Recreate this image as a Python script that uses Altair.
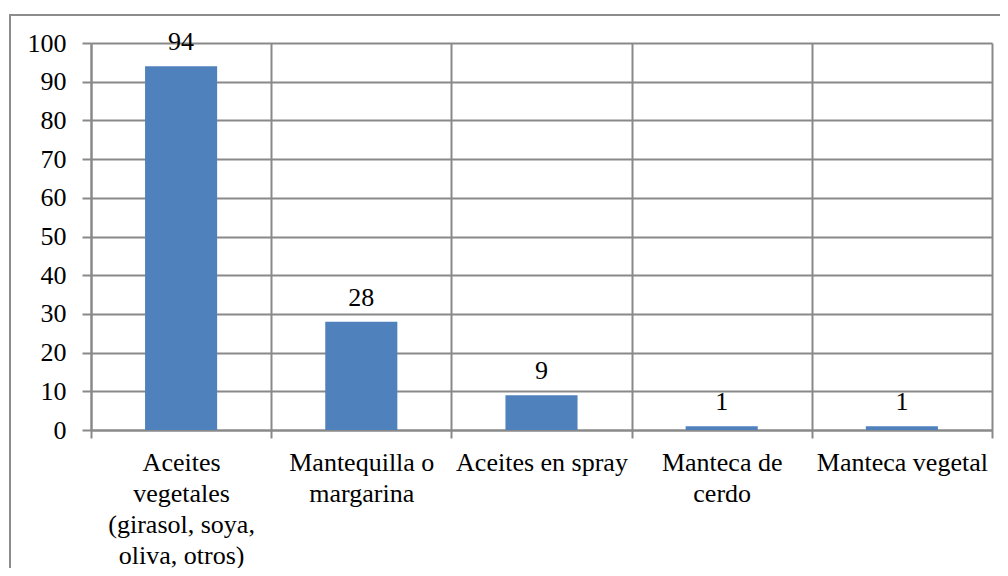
import altair as alt
import pandas as pd

categories = [
    "Aceites\nvegetales\n(girasol, soya,\noliva, otros)",
    "Mantequilla o\nmargarina",
    "Aceites en spray",
    "Manteca de\ncerdo",
    "Manteca vegetal",
]
values = [94, 28, 9, 1, 1]
y_ticks = [0, 10, 20, 30, 40, 50, 60, 70, 80, 90, 100]

df = pd.DataFrame({"cat": categories, "val": values})

FONT = "Times New Roman"
FS = 26
GRID = "#898989"

x_enc = alt.X(
    "cat:N",
    sort=categories,
    title=None,
    scale=alt.Scale(paddingInner=0, paddingOuter=0),
    axis=alt.Axis(
        labelAngle=0,
        labelExpr="split(datum.label, '\\n')",
        labelFont=FONT,
        labelFontSize=FS,
        labelColor="#000000",
        labelLineHeight=31,
        labelPadding=11,
        labelBaseline="top",
        tickBand="extent",
        tickSize=8,
        tickColor=GRID,
        tickWidth=2,
        domainColor=GRID,
        domainWidth=2,
        grid=True,
        gridColor=GRID,
        gridWidth=2,
    ),
)

y_enc = alt.Y(
    "val:Q",
    title=None,
    scale=alt.Scale(domain=[0, 100], nice=False, zero=True),
    axis=alt.Axis(
        values=y_ticks,
        labelOverlap=False,
        labelFont=FONT,
        labelFontSize=FS,
        labelColor="#000000",
        labelPadding=16,
        tickSize=9,
        tickColor=GRID,
        tickWidth=2,
        domainColor=GRID,
        domainWidth=2,
        grid=True,
        gridColor=GRID,
        gridWidth=2,
    ),
)

base = alt.Chart(df)

bars = base.mark_bar(color="#4F81BD", width=alt.RelativeBandSize(0.4)).encode(
    x=x_enc, y=y_enc
)

labels = base.mark_text(
    font=FONT, fontSize=FS, color="#000000", baseline="alphabetic", dy=-16
).encode(x=x_enc, y=y_enc, text=alt.Text("val:Q"))

frame = alt.Chart(pd.DataFrame({"f": [0]})).mark_rect(
    fill=None, stroke="#8c8c8c", strokeWidth=2
).encode(
    x=alt.value(-81), x2=alt.value(1100), y=alt.value(-28), y2=alt.value(800)
)

chart = (
    alt.layer(frame, bars, labels)
    .properties(
        width=901,
        height=387,
        autosize=alt.AutoSizeParams(type="none"),
        padding={"left": 83, "top": 35, "right": 8, "bottom": 138},
        background="#ffffff",
    )
    .configure_view(strokeWidth=0)
    .configure_axis(labelFont=FONT, labelFontSize=FS)
    .configure_text(font=FONT, fontSize=FS)
)

chart.save("out.html", embed_options={"renderer": "svg", "actions": False})
